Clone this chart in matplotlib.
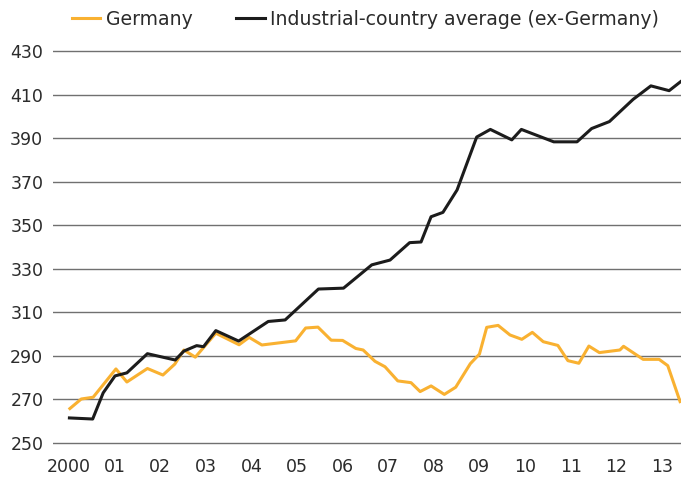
import matplotlib
matplotlib.use("Agg")
import matplotlib.pyplot as plt

# vertices (decimal year, value)
ind_years = [2000.01, 2000.52, 2000.75, 2001.01, 2001.27, 2001.72, 2002.33, 2002.52,
             2002.80, 2002.95, 2003.22, 2003.72, 2004.37, 2004.74, 2005.47, 2006.02,
             2006.64, 2007.04, 2007.47, 2007.72, 2007.94, 2008.20, 2008.51, 2008.94,
             2009.24, 2009.71, 2009.92, 2010.63, 2011.14, 2011.46, 2011.85, 2012.37,
             2012.76, 2013.16, 2013.41]
ind_vals = [261.5, 261.0, 273.0, 280.8, 282.2, 291.0, 288.1, 292.2,
            294.7, 294.2, 301.6, 296.8, 305.8, 306.5, 320.7, 321.1,
            331.8, 334.0, 342.0, 342.3, 353.9, 355.9, 366.2, 390.5,
            394.0, 389.2, 394.0, 388.3, 388.3, 394.4, 397.6, 407.8,
            414.0, 411.8, 415.9]

ger_years = [2000.02, 2000.27, 2000.53, 2001.03, 2001.27, 2001.72, 2002.06, 2002.32,
             2002.52, 2002.77, 2003.22, 2003.73, 2003.95, 2004.23, 2004.97, 2005.19,
             2005.46, 2005.75, 2006.00, 2006.29, 2006.45, 2006.71, 2006.93, 2007.21,
             2007.50, 2007.70, 2007.94, 2008.23, 2008.48, 2008.80, 2009.00, 2009.16,
             2009.41, 2009.67, 2009.93, 2010.16, 2010.40, 2010.72, 2010.94, 2011.18,
             2011.40, 2011.63, 2012.08, 2012.16, 2012.59, 2012.94, 2013.13, 2013.40]
ger_vals = [265.8, 270.2, 271.0, 284.0, 278.0, 284.2, 281.2, 286.2,
            292.7, 289.4, 300.4, 295.1, 298.5, 295.0, 296.9, 302.8,
            303.2, 297.2, 297.1, 293.4, 292.7, 287.5, 285.0, 278.5,
            277.7, 273.6, 276.2, 272.3, 275.6, 286.4, 290.8, 303.1,
            304.0, 299.6, 297.6, 300.8, 296.5, 294.8, 287.8, 286.6,
            294.5, 291.5, 292.7, 294.4, 288.4, 288.4, 285.5, 269.0]

tick_years = list(range(2000, 2014))
tick_labels = ['2000'] + ['%02d' % (y - 2000) for y in tick_years[1:]]
y_ticks = list(range(250, 431, 20))

plt.rcParams['font.family'] = 'DejaVu Sans'
txt = '#2b2b2b'

fig = plt.figure(figsize=(6.81, 4.82), dpi=100)
W, H = 681, 482
# axes placed so gridline 430 sits at y=51px and 250 at y=443px
ax = fig.add_axes([53 / W, 32.5 / H, 628 / W, 405 / H])

ax.plot(ger_years, ger_vals, color='#F9B131', lw=2.2, label='Germany', zorder=3)
ax.plot(ind_years, ind_vals, color='#1c1c1c', lw=2.2,
        label='Industrial-country average (ex-Germany)', zorder=4)

ax.set_xlim(1999.65, 2013.42)
ax.set_ylim(247, 433)
ax.set_yticks(y_ticks)
ax.set_xticks(tick_years)
ax.set_xticklabels(tick_labels)
ax.yaxis.grid(True, color='#707070', lw=1.0)
ax.set_axisbelow(True)
for s in ax.spines.values():
    s.set_visible(False)
ax.tick_params(axis='both', length=0, labelsize=12.5, colors=txt)
ax.tick_params(axis='y', pad=7)
ax.tick_params(axis='x', pad=6)

leg = fig.legend(loc='upper left', bbox_to_anchor=(72 / W, 1 - 10 / H), ncol=2,
                 frameon=False, fontsize=13.6, handlelength=1.5,
                 handletextpad=0.3, columnspacing=2.3,
                 borderpad=0, borderaxespad=0)
for t in leg.get_texts():
    t.set_color(txt)

fig.savefig('out.png', dpi=100)
